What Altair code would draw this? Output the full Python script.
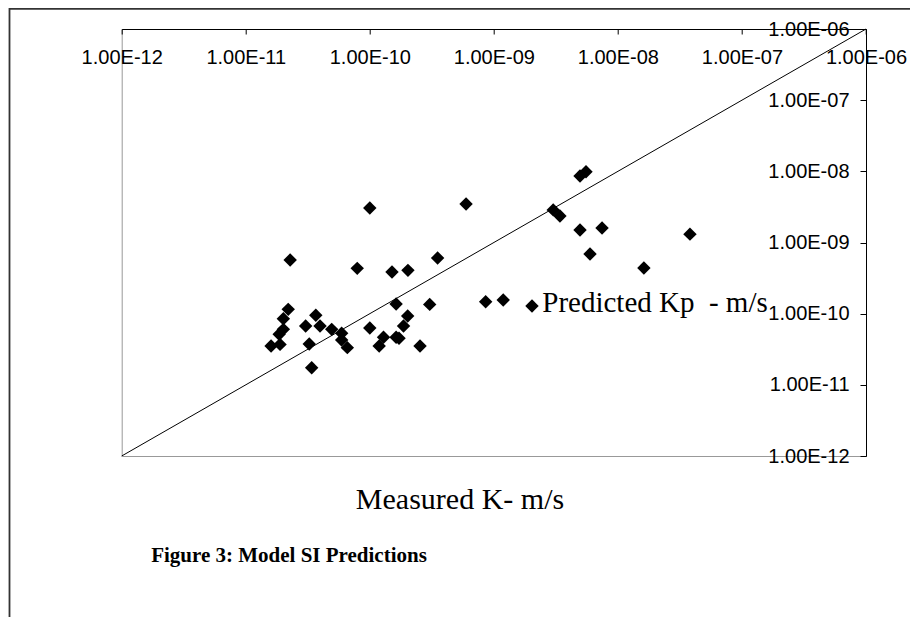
import altair as alt
import pandas as pd

# Measured K (m/s) and predicted Kp (m/s)
measured = [2.28e-11, 7.92e-11, 1.51e-10, 2.03e-10, 3.52e-10, 1.63e-10, 3.04e-10, 8.59e-10,
            1.19e-9, 2.20e-11, 2.01e-11, 3.67e-11, 3.04e-11, 3.97e-11, 2.01e-11, 1.86e-11,
            4.93e-11, 5.93e-11, 5.93e-11, 1.00e-10, 2.02e-10, 1.87e-10, 1.29e-10, 1.63e-10,
            1.72e-10, 1.19e-10, 2.54e-10, 1.60e-11, 1.89e-11, 3.25e-11, 6.59e-11, 3.40e-11,
            1.00e-10, 5.97e-10, 4.95e-9, 5.53e-9, 3.01e-9, 3.41e-9, 4.95e-9, 7.45e-9,
            5.96e-9, 1.62e-8, 2.03e-9, 3.81e-8]
predicted = [5.68e-10, 4.33e-10, 3.85e-10, 4.06e-10, 6.05e-10, 1.37e-10, 1.35e-10, 1.47e-10,
             1.56e-10, 1.15e-10, 8.49e-11, 9.48e-11, 6.71e-11, 6.71e-11, 6.02e-11, 5.13e-11,
             6.02e-11, 5.30e-11, 4.26e-11, 6.29e-11, 9.27e-11, 6.71e-11, 4.66e-11, 4.66e-11,
             4.51e-11, 3.51e-11, 3.51e-11, 3.51e-11, 3.70e-11, 3.75e-11, 3.33e-11, 1.74e-11,
             3.05e-9, 3.48e-9, 8.59e-9, 9.89e-9, 2.87e-9, 2.36e-9, 1.50e-9, 1.60e-9,
             6.89e-10, 4.38e-10, 1.28e-10, 1.31e-9]

# 1:1 line
line_x = [1e-12, 1e-6]
line_y = [1e-12, 1e-6]

tick_values = [1e-12, 1e-11, 1e-10, 1e-9, 1e-8, 1e-7, 1e-6]
tick_labels = ["1.00E-12", "1.00E-11", "1.00E-10", "1.00E-09", "1.00E-08", "1.00E-07", "1.00E-06"]

x_title = "Measured K- m/s"
y_title = "Predicted Kp\u00a0\u00a0- m/s"
caption = "Figure 3: Model SI Predictions"

W, H = 744.3, 427
PAD_L, PAD_T = 113.7, 21
PAD_R = 902 - PAD_L - W
PAD_B = 609 - PAD_T - H

label_expr = "[" + ",".join("'%s'" % s for s in tick_labels) + "][round(log(datum.value)/LN10)+12]"

xscale = alt.Scale(type="log", domain=[tick_values[0], tick_values[-1]], nice=False)
yscale = alt.Scale(type="log", domain=[tick_values[0], tick_values[-1]], nice=False)

x_axis = alt.Axis(orient="bottom", offset=-H, values=tick_values, labelExpr=label_expr,
                  title=None, grid=False, domainColor="black", tickColor="black",
                  tickSize=5, labelPadding=13, labelFont="Liberation Sans", labelFontSize=20,
                  labelColor="black", labelFlush=False, labelOverlap=False)
y_axis = alt.Axis(orient="left", offset=-W, values=tick_values, labelExpr=label_expr,
                  title=None, grid=False, domainColor="black", tickColor="black",
                  tickSize=6, labelPadding=11, labelFont="Liberation Sans", labelFontSize=20,
                  labelColor="black", labelFlush=False, labelOverlap=False)

pts = pd.DataFrame({"measured": measured, "predicted": predicted})
line_df = pd.DataFrame({"measured": line_x, "predicted": line_y})

line = alt.Chart(line_df).mark_line(color="black", strokeWidth=1).encode(
    x=alt.X("measured:Q", scale=xscale, axis=x_axis),
    y=alt.Y("predicted:Q", scale=yscale, axis=y_axis),
)
points = alt.Chart(pts).mark_point(shape="diamond", filled=True, color="black",
                                   size=180, opacity=1).encode(
    x=alt.X("measured:Q", scale=xscale),
    y=alt.Y("predicted:Q", scale=yscale),
)

one = pd.DataFrame({"a": [0]})
frame_top = alt.Chart(one).mark_rule(color="#333", strokeWidth=1.8).encode(
    x=alt.value(9 - 121.7), x2=alt.value(910 - 121.7), y=alt.value(8.8 - 29))
frame_left = alt.Chart(one).mark_rule(color="#333", strokeWidth=1.8).encode(
    x=alt.value(9.5 - 121.7), y=alt.value(8 - 29), y2=alt.value(617 - 29))

t_pred = alt.Chart(pd.DataFrame({"t": [y_title]})).mark_text(
    font="Liberation Serif", fontSize=29, color="black", align="center", baseline="middle"
).encode(text="t:N", x=alt.value(655 - 121.7), y=alt.value(303 - 29))
t_meas = alt.Chart(pd.DataFrame({"t": [x_title]})).mark_text(
    font="Liberation Serif", fontSize=30, color="black", align="center", baseline="middle"
).encode(text="t:N", x=alt.value(460 - 121.7), y=alt.value(500 - 29))
t_cap = alt.Chart(pd.DataFrame({"t": [caption]})).mark_text(
    font="Liberation Serif", fontSize=21, fontWeight="bold", color="black",
    align="center", baseline="middle"
).encode(text="t:N", x=alt.value(289 - 121.7), y=alt.value(556 - 29))

chart = alt.layer(line, points, frame_top, frame_left, t_pred, t_meas, t_cap).properties(
    width=W, height=H,
    autosize=alt.AutoSizeParams(type="none"),
    padding={"left": PAD_L, "top": PAD_T, "right": PAD_R, "bottom": PAD_B},
    background="white",
).configure_view(stroke="#999", strokeWidth=1)

chart.save("out.html", embed_options={"renderer": "svg", "actions": False})
